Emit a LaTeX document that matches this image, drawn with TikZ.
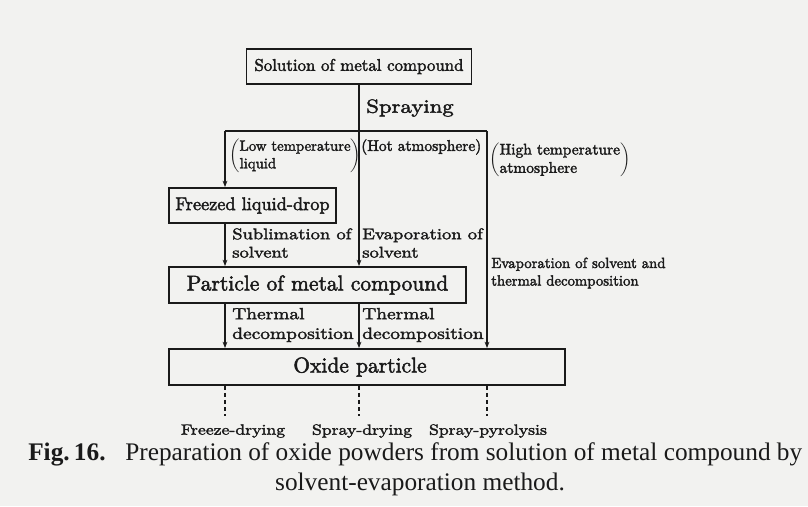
\documentclass[tikz,border=0pt]{standalone}
\usepackage{fontspec}
\newfontfamily\capfont{Liberation Serif}
\newfontfamily\narrowfont{lmroman10-regular.otf}[FakeBold=2.2]
\newfontfamily\widefont{lmroman10-regular.otf}[FakeBold=2.2,FakeStretch=1.2]
\usepackage{xcolor}
\definecolor{cInk}{HTML}{1A1A1A}
\definecolor{cPaper}{HTML}{F2F2F0}
\usetikzlibrary{positioning,arrows.meta,calc}
\tikzset{
  node-box/.style={draw=cInk,line width=1.3pt,minimum height=8.75mm,
    inner sep=0pt,align=center,text=cInk},
  node-note/.style={anchor=west,align=left,inner sep=0pt,text=cInk,
    font=\narrowfont\fontsize{10.5}{12.5}\selectfont},
  node-step/.style={anchor=west,align=left,inner sep=0pt,text=cInk,
    font=\widefont\fontsize{11}{13}\selectfont},
  node-end/.style={inner sep=0pt,text=cInk,font=\widefont\fontsize{10.5}{12}\selectfont},
  node-caption/.style={inner sep=0pt,text=cInk,font=\capfont\fontsize{18}{22}\selectfont},
  link/.style={line width=1.3pt,draw=cInk},
  arrow/.style={-{Stealth[length=1.6mm,width=1.2mm]},line width=1.3pt,draw=cInk},
  link-dash/.style={dash pattern=on 3pt off 2pt,line width=1.3pt,draw=cInk},
}
% two-line label held in one pair of tall parentheses
\newcommand{\parennote}[1]{$\left(\begin{tabular}{@{}l@{}}#1\end{tabular}\right)$}

\begin{document}
\begin{tikzpicture}[x=0.025cm,y=-0.025cm]
  \fill[cPaper] (0,0) rectangle (808,506);
  \useasboundingbox (0,0) rectangle (808,506);
  % boxes
  \node[node-box,minimum width=5.625cm,font=\narrowfont\fontsize{12}{14}\selectfont] (sol) at (359,66.5) {Solution of metal compound};
  \node[node-box,minimum width=4.175cm,font=\narrowfont\fontsize{13}{15}\selectfont] (freeze) at (252.5,205.5) {Freezed liquid-drop};
  \node[node-box,minimum width=7.425cm,minimum height=9mm,font=\narrowfont\fontsize{15.3}{17}\selectfont] (particle) at (317.5,285) {Particle of metal compound};
  \node[node-box,minimum width=9.9cm,minimum height=9mm,font=\narrowfont\fontsize{15.3}{17}\selectfont] (oxide) at (367,367) {Oxide particle\hspace*{0.35cm}};
  % branch points
  \coordinate (split) at (359,131);
  \coordinate (left) at (225,131);
  \coordinate (right) at (487,131);
  % spraying
  \draw[link] (sol.south) -- (split);
  \draw[link] (left) -- (right);
  \node[node-step,font=\widefont\fontsize{13.5}{15}\selectfont] (spray) at (366,108) {Spraying};
  \draw[arrow] (left) -- (left |- freeze.north);
  \draw[arrow] (split) -- (split |- particle.north);
  \draw[arrow] (right) -- (right |- oxide.north);
  \node[node-note] (lowtemp) at (229,156) {\parennote{Low temperature\\liquid}};
  \node[node-note,font=\narrowfont\fontsize{11}{13}\selectfont] (hotatm) at (361,147) {(Hot atmosphere)};
  \node[node-note,font=\narrowfont\fontsize{11}{13}\selectfont] (hightemp) at (489,160) {\parennote{High temperature\\atmosphere}};
  % second stage
  \draw[arrow] (left |- freeze.south) -- (left |- particle.north);
  \node[node-step] (sublim) at (232,243) {Sublimation of\\solvent};
  \node[node-step] (evap) at (362,243) {Evaporation of\\solvent};
  \node[node-note] (evapdec) at (491,273) {Evaporation of solvent and\\thermal decomposition};
  % third stage
  \draw[arrow] (left |- particle.south) -- (left |- oxide.north);
  \draw[arrow] (split |- particle.south) -- (split |- oxide.north);
  \node[node-step,font=\widefont\fontsize{11.5}{14}\selectfont] (thermal-a) at (232,325) {Thermal\\decomposition};
  \node[node-step,font=\widefont\fontsize{11.5}{14}\selectfont] (thermal-b) at (362,325) {Thermal\\decomposition};
  % methods
  \node[node-end] (fd) at (233,431) {Freeze-drying};
  \node[node-end] (sd) at (362,431) {Spray-drying};
  \node[node-end] (sp) at (488,431) {Spray-pyrolysis};
  \draw[link-dash] (left |- oxide.south) -- ++(0,30);
  \draw[link-dash] (split |- oxide.south) -- ++(0,30);
  \draw[link-dash] (right |- oxide.south) -- ++(0,30);
  % caption
  \node[node-caption,anchor=base west,font=\capfont\bfseries\fontsize{18}{22}\selectfont] (fignum) at (28,460) {Fig.\,16.};
  \node[node-caption,anchor=base west] (captext) at (125,460) {Preparation of oxide powders from solution of metal compound by};
  \node[node-caption,anchor=base] (capline) at (420,490) {solvent-evaporation method.};
\end{tikzpicture}
\end{document}
